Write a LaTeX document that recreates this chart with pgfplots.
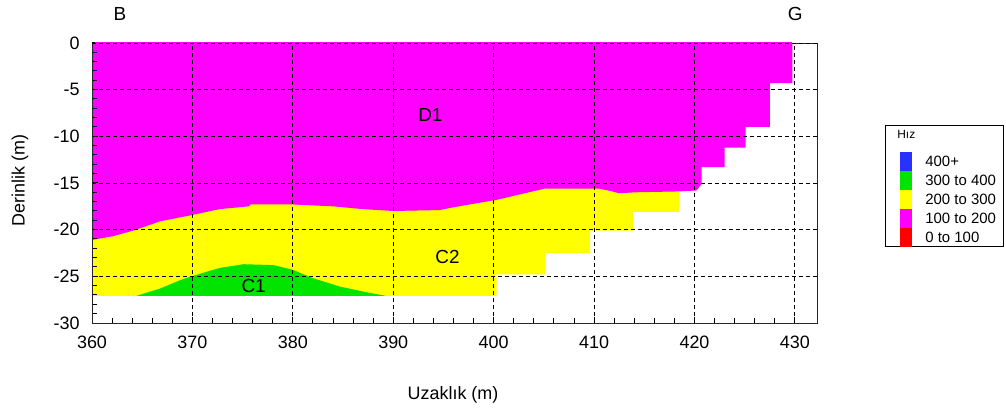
\documentclass[border=0pt]{standalone}
\usepackage{pgfplots}
\pgfplotsset{compat=1.18}
\usepackage{pgfplotstable}
\usepackage{fontspec}
\setmainfont{Liberation Sans}
\definecolor{cmag}{RGB}{255,0,255}
\definecolor{cyel}{RGB}{255,255,0}
\definecolor{cgrn}{RGB}{0,228,0}
\definecolor{cblu}{RGB}{40,50,255}
\definecolor{cred}{RGB}{255,0,0}

% D1 (100 to 200)
\pgfplotstableread{
x y
360 0
429.75 0
429.75 -4.3
427.5 -4.3
427.5 -9.0
425.1 -9.0
425.1 -11.2
423.0 -11.2
423.0 -13.3
420.7 -13.3
420.7 -15.1
420.2 -15.8
418.5 -15.9
414.0 -16.0
412.5 -16.1
411.8 -15.9
410.5 -15.6
405.1 -15.6
400.3 -16.8
396.0 -17.6
394.6 -17.9
390.0 -18.0
387.0 -17.8
384.0 -17.5
380.0 -17.3
375.8 -17.3
375.6 -17.5
372.7 -17.8
370.1 -18.4
366.8 -19.1
364.1 -20.1
362.1 -20.7
360 -21.1
}\magtab

% C2 (200 to 300)
\pgfplotstableread{
x y
360 -15
418.5 -15
418.5 -18.1
413.9 -18.1
413.9 -20.1
409.6 -20.1
409.6 -22.5
405.1 -22.5
405.1 -24.8
400.3 -24.8
400.3 -27.1
360 -27.1
}\yeltab

% C1 (300 to 400)
\pgfplotstableread{
x y
364.4 -27.1
366.8 -26.3
368.8 -25.4
370.2 -24.9
372.7 -24.1
375.1 -23.7
378.1 -23.8
380.0 -24.3
382.0 -25.2
384.7 -26.1
387.3 -26.7
389.3 -27.1
}\grntab

\begin{document}
\begin{tikzpicture}
\begin{axis}[
  set layers,
  scale only axis, width=725bp, height=280bp,
  xmin=360, xmax=432.2, ymin=-30, ymax=0,
  axis line style={black!85, line width=0.9bp},
  xtick={360,370,...,430}, ytick={-30,-25,...,0},
  minor x tick num=4, minor y tick num=4,
  xtick pos=left, ytick pos=left,
  tick align=inside,
  major tick length=6bp, minor tick length=5bp,
  tick style={black, line width=1bp},
  xmajorgrids=true, ymajorgrids=true,
  major grid style={black, line width=0.9bp, dash pattern=on 4bp off 3bp},
  tick label style={font=\fontsize{18}{20}\selectfont},
  xticklabel style={yshift=-9bp},
  yticklabel style={xshift=-9bp},
  /pgf/number format/assume math mode=true,
  xlabel={Uzaklık (m)}, ylabel={Derinlik (m)},
  label style={font=\fontsize{18}{20}\selectfont},
  xlabel style={at={(axis description cs:0.498,-0.257)}, anchor=center},
  ylabel style={at={(axis description cs:-0.0993,0.51)}, anchor=center},
  clip=false,
]
\addplot[fill=cyel, draw=none, on layer=axis background] table {\yeltab};
\addplot[fill=cmag, draw=none, on layer=axis background] table {\magtab};
\addplot[fill=cgrn, draw=none, on layer=axis background] table {\grntab};

\node[font=\fontsize{19}{21}\selectfont] at (axis cs:393.7,-7.7) {D1};
\node[font=\fontsize{19}{21}\selectfont] at (axis cs:395.4,-22.9) {C2};
\node[font=\fontsize{19}{21}\selectfont] at (axis cs:376.1,-26.0) {C1};

\node[font=\fontsize{19}{21}\selectfont] at (rel axis cs:0.0386,1.104) {B};
\node[font=\fontsize{19}{21}\selectfont] at (rel axis cs:0.970,1.104) {G};

\begin{pgfonlayer}{axis foreground}
\draw[cmag, line width=1.4bp] (axis cs:360.3,0) -- (axis cs:429.75,0);
\draw[black, line width=0.9bp, dash pattern=on 4bp off 3bp] (axis cs:360,0) -- (axis cs:432.2,0);
\end{pgfonlayer}

\node[draw=black, line width=0.8bp, anchor=north west, minimum width=118bp, minimum height=121bp, inner sep=0pt] (leg) at (rel axis cs:1.094,0.707) {};
\node[anchor=north west, inner sep=0pt, font=\fontsize{15}{17}\selectfont] at ([xshift=12bp,yshift=-2bp]leg.north west) {%
\renewcommand{\arraystretch}{0}%
\begin{tabular}{@{}l@{\hspace{13bp}}l@{}}
\multicolumn{2}{@{}l@{}}{\fontsize{12}{14}\selectfont\rule[-14bp]{0pt}{25bp}Hız}\\
\hspace{3bp}\textcolor{cblu}{\rule[-5bp]{12bp}{19bp}} & 400+\\
\hspace{3bp}\textcolor{cgrn}{\rule[-5bp]{12bp}{19bp}} & 300 to 400\\
\hspace{3bp}\textcolor{cyel}{\rule[-5bp]{12bp}{19bp}} & 200 to 300\\
\hspace{3bp}\textcolor{cmag}{\rule[-5bp]{12bp}{19bp}} & 100 to 200\\
\hspace{3bp}\textcolor{cred}{\rule[-5bp]{12bp}{19bp}} & 0 to 100\\
\end{tabular}};
\end{axis}
\path (current axis.south west) ++(-92bp,-91bp) rectangle ++(1006bp,414bp);
\end{tikzpicture}
\end{document}
